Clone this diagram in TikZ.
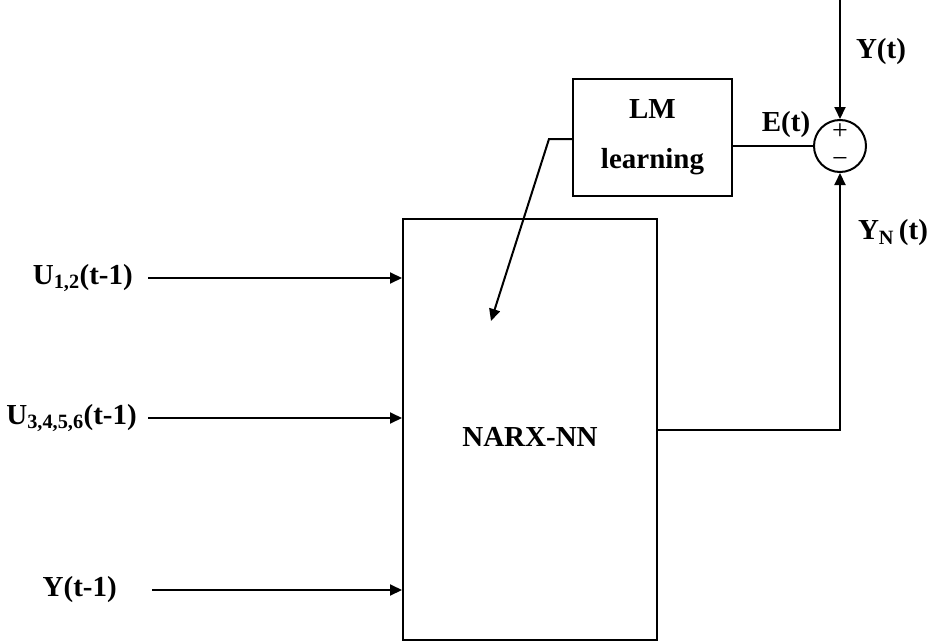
\documentclass[tikz,border=0pt]{standalone}
\usepackage{fontspec}
\setmainfont{Liberation Serif}
\usetikzlibrary{arrows.meta,positioning}

\tikzset{
  lbl/.style={font=\fontsize{29}{32}\selectfont\bfseries, inner sep=0pt},
  blk/.style={draw, line width=2pt, inner sep=0pt},
  wire/.style={line width=2pt},
  sig/.style={wire, -{Triangle[length=12pt,width=11pt]}},
  sgn/.style={inner sep=0pt, font=\fontsize{28}{28}\selectfont},
}

\begin{document}
\begin{tikzpicture}[x=1pt,y=-1pt]
    \useasboundingbox (0,0) rectangle (935,642);

    % 1. the blocks
    \node[blk, minimum width=254pt, minimum height=421pt] (narx) at (530,429.5) {};
    \node[lbl] (narxtxt) at (530,437) {NARX-NN};

    \node[blk, minimum width=159pt, minimum height=117pt, align=center,
          font=\fontsize{29}{50}\selectfont\bfseries] (lm) at (652.5,137.5) {LM\\learning};

    % summing point
    \node[blk, circle, minimum size=52pt] (sum) at (840,146) {};
    \node[sgn] (plus) at (840,132) {+};
    \node[sgn] (minus) at (840,163) {−};

    % 2. the inputs on the left
    \node[lbl, anchor=east] (u12) at (133,278) {U\textsubscript{1,2}(t-1)};
    \node[lbl, anchor=east] (u36) at (137,418) {U\textsubscript{3,4,5,6}(t-1)};
    \node[lbl, anchor=east] (ypast) at (117,590) {Y(t-1)};

    \coordinate (in1) at (148,278);
    \coordinate (in2) at (148,418);
    \coordinate (in3) at (152,590);
    \draw[sig] (in1) -- (in1 -| narx.west);
    \draw[sig] (in2) -- (in2 -| narx.west);
    \draw[sig] (in3) -- (in3 -| narx.west);

    % 3. the error loop
    \coordinate (ytop) at (840,0);
    \draw[sig] (ytop) -- (sum.north);
    \node[lbl] (ylbl) at (881,52) {Y(t)};

    \draw[sig] (narx.east) -| (sum.south);
    \node[lbl] (ynlbl) at (893,233) {Y\textsubscript{N}\,(t)};

    \draw[wire] (sum.west -| lm.east) -- (sum.west);
    \node[lbl] (elbl) at (786,125) {E(t)};

    % 4. the weight update back into the network
    \coordinate (bend) at (549,139);
    \coordinate (tip) at (491,321);
    \draw[sig] (bend -| lm.west) -- (bend) -- (tip);

\end{tikzpicture}
\end{document}
